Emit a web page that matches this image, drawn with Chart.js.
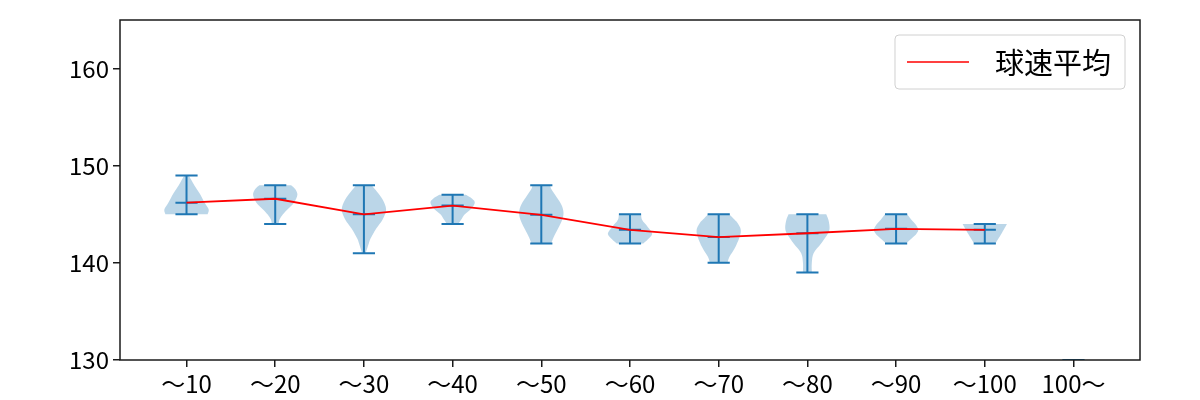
<!DOCTYPE html>
<html>
<head>
<meta charset="utf-8">
<script src="https://cdn.jsdelivr.net/npm/chart.js@4.4.1/dist/chart.umd.min.js"></script>
<style>
    html, body { margin: 0; padding: 0; background: #fff; }
</style>
</head>
<body>
<canvas id="chart" width="1200" height="400"></canvas>
<script>
// categories (x tick labels)
const labels = ['～10', '～20', '～30', '～40', '～50', '～60', '～70', '～80', '～90', '～100', '100～'];
const yTicks = [130, 140, 150, 160];

// per-category mean / min / max
const means = [146.2, 146.6, 145.0, 145.9, 144.95, 143.4, 142.65, 143.05, 143.5, 143.4, null];
const mins = [145, 144, 141, 144, 142, 142, 140, 139, 142, 142, 128];
const maxs = [149, 148, 148, 147, 148, 145, 145, 145, 145, 144, 130];

// violin outlines: [value, relative half-width], bottom to top
const profiles = [
    [[145, 0.95], [145.5, 1.0], [146.2, 0.82], [147.2, 0.58], [148, 0.35], [148.6, 0.2], [149, 0.1]],
    [[144, 0.15], [144.5, 0.2], [145, 0.35], [145.5, 0.55], [146.2, 0.85], [147, 1.0], [147.6, 0.9], [148, 0.72]],
    [[141, 0.08], [142, 0.22], [142.5, 0.3], [143.5, 0.55], [144.5, 0.85], [145.5, 1.0], [146.5, 0.85], [147.3, 0.6], [148, 0.35]],
    [[144, 0.25], [144.5, 0.4], [145, 0.55], [145.6, 0.85], [146.2, 1.0], [146.6, 0.88], [147, 0.6]],
    [[142, 0.45], [142.6, 0.55], [143.5, 0.75], [144.5, 0.95], [145.2, 1.0], [146, 0.9], [147, 0.62], [147.6, 0.45], [148, 0.4]],
    [[142, 0.6], [142.4, 0.8], [143, 1.0], [143.7, 0.8], [144.4, 0.55], [145, 0.5]],
    [[140, 0.4], [140.6, 0.48], [141.7, 0.77], [143.2, 1.0], [144.1, 0.85], [144.6, 0.65], [145, 0.48]],
    [[139, 0.2], [140, 0.2], [141, 0.28], [142, 0.62], [143, 0.92], [143.6, 1.0], [144.4, 0.95], [145, 0.85]],
    [[142, 0.45], [142.5, 0.7], [143, 0.92], [143.4, 1.0], [143.9, 0.9], [144.4, 0.7], [145, 0.5]],
    [[142, 0.48], [143, 0.75], [144, 1.0]],
    [[128, 0.5], [130, 0.5]]
];

const VIOLIN_HALF = 0.25;  // in x units
const BAR_HALF = 0.125;
const BLUE = '#1f77b4';
const FONT = '"Noto Sans CJK JP", "Noto Sans", sans-serif';

function splinePath(ctx, pts, moveFirst) {
    // catmull-rom through pts
    if (moveFirst) ctx.moveTo(pts[0][0], pts[0][1]);
    else ctx.lineTo(pts[0][0], pts[0][1]);
    for (let i = 0; i < pts.length - 1; i++) {
        const p0 = pts[Math.max(i - 1, 0)];
        const p1 = pts[i];
        const p2 = pts[i + 1];
        const p3 = pts[Math.min(i + 2, pts.length - 1)];
        ctx.bezierCurveTo(
            p1[0] + (p2[0] - p0[0]) / 6, p1[1] + (p2[1] - p0[1]) / 6,
            p2[0] - (p3[0] - p1[0]) / 6, p2[1] - (p3[1] - p1[1]) / 6,
            p2[0], p2[1]
        );
    }
}

const violinPlugin = {
    id: 'violins',
    beforeDatasetsDraw(chart) {
        const { ctx, chartArea, scales: { x, y } } = chart;
        ctx.save();
        ctx.beginPath();
        ctx.rect(chartArea.left, chartArea.top, chartArea.width, chartArea.height);
        ctx.clip();

        profiles.forEach((prof, i) => {
            const pos = i + 1;
            const cx = x.getPixelForValue(pos);
            const half = x.getPixelForValue(pos + VIOLIN_HALF) - cx;
            const right = prof.map(([v, w]) => [cx + w * half, y.getPixelForValue(v)]);
            const left = prof.map(([v, w]) => [cx - w * half, y.getPixelForValue(v)]).reverse();
            ctx.beginPath();
            splinePath(ctx, right, true);
            splinePath(ctx, left, false);
            ctx.closePath();
            ctx.fillStyle = 'rgba(31, 119, 180, 0.3)';
            ctx.fill();
        });

        // min / max / mean bars
        ctx.strokeStyle = BLUE;
        ctx.lineWidth = 2;
        profiles.forEach((prof, i) => {
            const pos = i + 1;
            const cx = x.getPixelForValue(pos);
            const bl = x.getPixelForValue(pos - BAR_HALF);
            const br = x.getPixelForValue(pos + BAR_HALF);
            const yMin = y.getPixelForValue(mins[i]);
            const yMax = y.getPixelForValue(maxs[i]);
            ctx.beginPath();
            ctx.moveTo(cx, yMin); ctx.lineTo(cx, yMax);
            ctx.moveTo(bl, yMin); ctx.lineTo(br, yMin);
            ctx.moveTo(bl, yMax); ctx.lineTo(br, yMax);
            if (means[i] !== null) {
                const yMean = y.getPixelForValue(means[i]);
                ctx.moveTo(bl, yMean); ctx.lineTo(br, yMean);
            }
            ctx.stroke();
        });
        ctx.restore();
    },
    afterDraw(chart) {
        const { ctx, chartArea } = chart;
        ctx.save();
        // frame
        ctx.strokeStyle = '#1a1a1a';
        ctx.lineWidth = 1.5;
        ctx.strokeRect(chartArea.left, chartArea.top, chartArea.width, chartArea.height);

        // legend
        const text = chart.data.datasets[0].label;
        ctx.font = '29px ' + FONT;
        const tw = ctx.measureText(text).width;
        const boxRight = chartArea.right - 15;
        const boxTop = chartArea.top + 15;
        const boxH = 54;
        const boxW = 12 + 62 + 26 + tw + 14;
        const boxLeft = boxRight - boxW;
        ctx.beginPath();
        ctx.roundRect(boxLeft, boxTop, boxW, boxH, 4);
        ctx.fillStyle = 'rgba(255,255,255,0.8)';
        ctx.fill();
        ctx.strokeStyle = '#d0d0d0';
        ctx.lineWidth = 1;
        ctx.stroke();
        const ly = boxTop + boxH / 2;
        ctx.beginPath();
        ctx.moveTo(boxLeft + 12, ly);
        ctx.lineTo(boxLeft + 74, ly);
        ctx.strokeStyle = 'red';
        ctx.lineWidth = 1.5;
        ctx.stroke();
        ctx.fillStyle = '#000';
        ctx.textBaseline = 'middle';
        ctx.fillText(text, boxLeft + 100, ly + 1);
        ctx.restore();
    }
};

const ctx = document.getElementById('chart').getContext('2d');
new Chart(ctx, {
    type: 'line',
    data: {
        datasets: [{
            label: '球速平均',
            data: means.map((m, i) => ({ x: i + 1, y: m })),
            borderColor: 'red',
            borderWidth: 1.8,
            pointRadius: 0,
            fill: false,
            tension: 0
        }]
    },
    options: {
        responsive: false,
        animation: false,
        layout: { padding: { left: 0, top: 20, right: 60, bottom: 0 } },
        plugins: {
            legend: { display: false },
            tooltip: { enabled: false }
        },
        scales: {
            x: {
                type: 'linear',
                min: 0.25,
                max: 11.75,
                afterBuildTicks: (scale) => {
                    scale.ticks = labels.map((_, i) => ({ value: i + 1 }));
                },
                afterFit: (scale) => { scale.height = 40; },
                grid: { display: true, drawOnChartArea: false, drawTicks: true, tickLength: 7, color: '#1a1a1a', lineWidth: 1.5 },
                border: { display: false },
                ticks: {
                    autoSkip: false,
                    maxRotation: 0,
                    padding: 2,
                    color: '#000',
                    font: { family: FONT, size: 24 },
                    callback: (v) => labels[Math.round(v) - 1]
                }
            },
            y: {
                type: 'linear',
                min: 130,
                max: 165,
                afterBuildTicks: (scale) => {
                    scale.ticks = yTicks.map(v => ({ value: v }));
                },
                afterFit: (scale) => { scale.width = 120; },
                grid: { display: true, drawOnChartArea: false, drawTicks: true, tickLength: 7, color: '#1a1a1a', lineWidth: 1.5 },
                border: { display: false },
                ticks: {
                    padding: 4,
                    color: '#000',
                    font: { family: FONT, size: 24 }
                }
            }
        }
    },
    plugins: [violinPlugin]
});
</script>
</body>
</html>
